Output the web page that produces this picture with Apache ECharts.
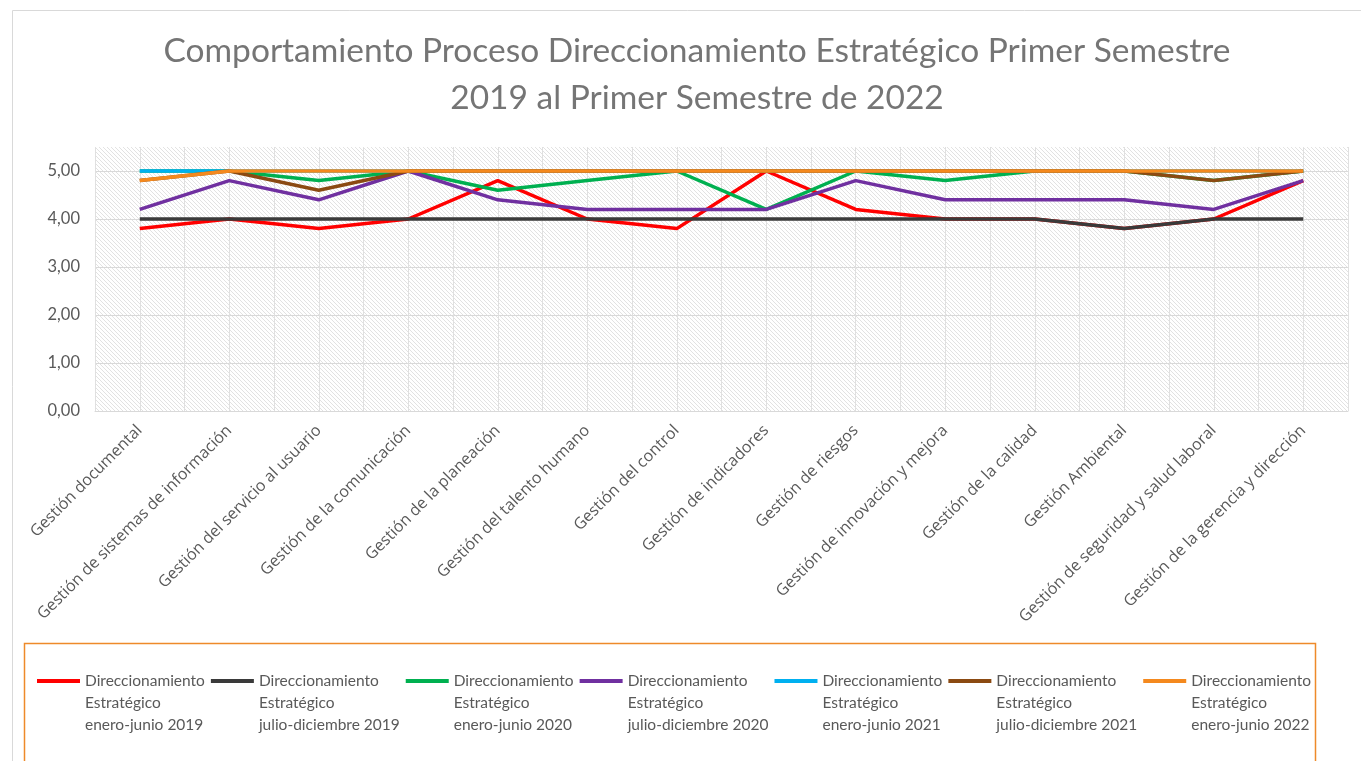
<!DOCTYPE html>
<html>
<head>
<meta charset="utf-8">
<script src="https://cdn.jsdelivr.net/npm/echarts@6/dist/echarts.min.js"></script>
<style>
  html, body { margin: 0; padding: 0; background: #fff; }
  #main { width: 1361px; height: 761px; }
</style>
</head>
<body>
<div id="main"></div>
<script>
var categorias = ['Gestión documental', 'Gestión de sistemas de información', 'Gestión del servicio al usuario',
  'Gestión de la comunicación', 'Gestión de la planeación', 'Gestión del talento humano', 'Gestión del control',
  'Gestión de indicadores', 'Gestión de riesgos', 'Gestión de innovación y mejora', 'Gestión de la calidad',
  'Gestión Ambiental', 'Gestión de seguridad y salud laboral', 'Gestión de la gerencia y dirección'];

var nombres = [
  'Direccionamiento\nEstratégico\nenero-junio 2019',
  'Direccionamiento\nEstratégico\njulio-diciembre 2019',
  'Direccionamiento\nEstratégico\nenero-junio 2020',
  'Direccionamiento\nEstratégico\njulio-diciembre 2020',
  'Direccionamiento\nEstratégico\nenero-junio 2021',
  'Direccionamiento\nEstratégico\njulio-diciembre 2021',
  'Direccionamiento\nEstratégico\nenero-junio 2022'
];

var ene2019 = [3.8, 4.0, 3.8, 4.0, 4.8, 4.0, 3.8, 5.0, 4.2, 4.0, 4.0, 3.8, 4.0, 4.8];
var jul2019 = [4.0, 4.0, 4.0, 4.0, 4.0, 4.0, 4.0, 4.0, 4.0, 4.0, 4.0, 3.8, 4.0, 4.0];
var ene2020 = [5.0, 5.0, 4.8, 5.0, 4.6, 4.8, 5.0, 4.2, 5.0, 4.8, 5.0, 5.0, 4.8, 5.0];
var jul2020 = [4.2, 4.8, 4.4, 5.0, 4.4, 4.2, 4.2, 4.2, 4.8, 4.4, 4.4, 4.4, 4.2, 4.8];
var ene2021 = [5.0, 5.0, 5.0, 5.0, 5.0, 5.0, 5.0, 5.0, 5.0, 5.0, 5.0, 5.0, 5.0, 5.0];
var jul2021 = [4.8, 5.0, 4.6, 5.0, 5.0, 5.0, 5.0, 5.0, 5.0, 5.0, 5.0, 5.0, 4.8, 5.0];
var ene2022 = [4.8, 5.0, 5.0, 5.0, 5.0, 5.0, 5.0, 5.0, 5.0, 5.0, 5.0, 5.0, 5.0, 5.0];

var colores = ['#ff0000', '#3a3a3a', '#00b050', '#7030a0', '#00b0f0', '#8b4a12', '#f4891e'];
var valores = [ene2019, jul2019, ene2020, jul2020, ene2021, jul2021, ene2022];

// trama diagonal del fondo
var trama = document.createElement('canvas');
trama.width = 4;
trama.height = 4;
var ctx = trama.getContext('2d');
ctx.fillStyle = '#ffffff';
ctx.fillRect(0, 0, 4, 4);
ctx.strokeStyle = '#e2e2e2';
ctx.lineWidth = 1;
ctx.beginPath();
ctx.moveTo(-1, -1); ctx.lineTo(5, 5);
ctx.moveTo(-1, 3); ctx.lineTo(1, 5);
ctx.moveTo(3, -1); ctx.lineTo(5, 1);
ctx.stroke();

var chart = echarts.init(document.getElementById('main'));
var fuente = 'Lato';

var series = valores.map(function (v, i) {
  return {
    name: nombres[i],
    type: 'line',
    data: v,
    symbol: 'none',
    xAxisIndex: 0,
    lineStyle: { width: 3.5, color: colores[i] },
    itemStyle: { color: colores[i] }
  };
});

var option = {
  animation: false,
  textStyle: { fontFamily: fuente },
  title: {
    text: 'Comportamiento Proceso Direccionamiento Estratégico Primer Semestre\n2019 al Primer Semestre de 2022',
    left: 692,
    textAlign: 'center',
    top: 23,
    textStyle: { fontSize: 33.5, lineHeight: 47, color: '#757575', fontWeight: 'normal', fontFamily: fuente }
  },
  graphic: [
    { type: 'rect', shape: { x: 12.5, y: 10.5, width: 1400, height: 800 }, style: { fill: 'none', stroke: '#d9d9d9', lineWidth: 1 }, z: -10 },
    { type: 'rect', shape: { x: 24.5, y: 643.5, width: 1291, height: 130 }, style: { fill: 'none', stroke: '#ee8a2a', lineWidth: 1.5 } }
  ],
  legend: {
    left: 32,
    top: 621,
    icon: 'rect',
    itemWidth: 43,
    itemHeight: 4,
    itemGap: 6,
    data: nombres,
    formatter: function (n) { return '\u00a0\n\u00a0\n' + n; },
    textStyle: { fontSize: 15.5, color: '#595959', lineHeight: 22, fontFamily: fuente }
  },
  grid: {
    left: 95,
    right: 13,
    top: 147,
    bottom: 350,
    show: true,
    borderWidth: 0,
    backgroundColor: { image: trama, repeat: 'repeat' }
  },
  xAxis: [{
    type: 'category',
    data: categorias,
    boundaryGap: true,
    axisLine: { lineStyle: { color: '#d9d9d9' } },
    axisTick: { show: false },
    axisLabel: { rotate: 45, fontSize: 16, color: '#595959', margin: 17, interval: 0, fontFamily: 'Open Sans' },
    splitLine: { show: false }
  }, {
    type: 'value',
    min: 0,
    max: 28,
    interval: 1,
    position: 'bottom',
    axisLine: { show: false },
    axisTick: { show: false },
    axisLabel: { show: false },
    splitLine: { show: true, lineStyle: { color: '#e0e0e0', width: 1 } }
  }],
  yAxis: {
    type: 'value',
    min: 0,
    max: 5.5,
    interval: 1,
    axisLine: { show: false },
    axisTick: { show: false },
    axisLabel: {
      fontSize: 16.5,
      color: '#595959',
      margin: 15,
      fontFamily: fuente,
      formatter: function (v) { return v > 5 ? '' : v.toFixed(2).replace('.', ','); }
    },
    splitLine: { lineStyle: { color: ['#d9d9d9', '#d9d9d9', '#d9d9d9', '#d9d9d9', '#d9d9d9', '#d9d9d9', 'rgba(0,0,0,0)'] } }
  },
  series: series
};
chart.setOption(option);
</script>
</body>
</html>
